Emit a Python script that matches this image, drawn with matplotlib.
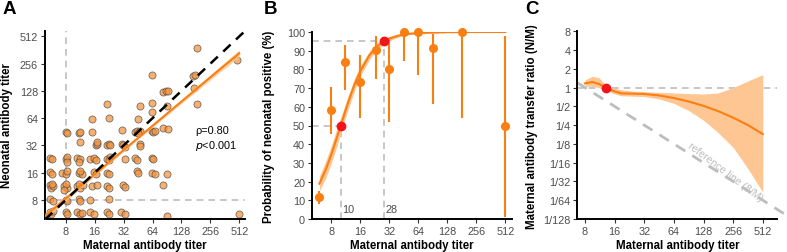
import numpy as np
import matplotlib
matplotlib.use("Agg")
import matplotlib.pyplot as plt

plt.rcParams['font.family'] = ['Liberation Sans', 'DejaVu Sans']

# panel A: log2 titers of maternal / neonatal pairs (jittered as in figure)
mat_log2 = [2.46, 2.50, 2.55, 2.99, 3.03, 3.39, 3.50, 3.55, 3.84, 3.97, 4.42, 4.49, 4.90, 5.06, 6.49, 9.00,
            2.46, 2.57, 2.99, 3.44, 3.50, 3.84, 4.49, 3.03,
            2.46, 2.50, 2.57, 2.53, 2.93, 3.03, 2.99, 3.39, 3.50, 3.61, 3.91, 4.07, 4.42, 4.49, 4.99, 5.06, 6.38, 3.44, 2.95,
            2.46, 2.53, 2.86, 2.99, 3.03, 3.44, 3.55, 3.97, 4.03, 4.42, 4.49, 5.45, 5.51, 5.97, 6.09, 6.49, 3.50,
            2.46, 2.53, 2.99, 3.03, 3.39, 3.50, 3.84, 3.97, 4.03, 4.42, 4.53, 4.49, 5.06, 5.40, 5.45, 5.97, 6.03, 3.03, 3.44,
            3.50, 4.03, 4.07, 4.42, 4.49, 4.53, 4.95, 4.99, 5.06, 5.57, 5.55, 4.07,
            2.99, 3.03, 3.44, 3.50, 3.90, 4.94, 5.40, 5.45, 5.57, 5.97, 6.03, 6.09, 6.38, 6.55, 5.50,
            3.90, 4.49, 5.51, 5.97,
            4.42, 5.57, 5.97, 6.49, 7.53,
            6.38, 6.45, 6.55, 7.45, 7.41, 7.47, 5.97,
            7.53, 8.91]
neo_log2 = [2.55, 2.50, 2.60, 2.55, 2.50, 2.55, 2.50, 2.52, 2.55, 2.50, 2.55, 2.50, 2.56, 2.47, 2.42, 2.49,
            3.05, 2.95, 3.00, 3.04, 2.95, 3.00, 3.04, 2.97,
            3.55, 3.45, 3.50, 3.60, 3.50, 3.45, 3.58, 3.50, 3.45, 3.55, 3.50, 3.55, 3.50, 3.45, 3.53, 3.47, 3.53, 3.60, 3.38,
            4.02, 3.95, 4.00, 3.95, 4.05, 4.00, 3.95, 4.02, 3.95, 4.00, 3.95, 4.05, 3.98, 4.00, 3.95, 3.95, 4.06,
            4.55, 4.50, 4.50, 4.58, 4.55, 4.50, 4.50, 4.55, 4.48, 4.52, 4.58, 4.45, 4.51, 4.55, 4.48, 4.55, 4.50, 4.38, 4.40,
            5.12, 5.00, 5.06, 5.00, 5.06, 5.00, 5.06, 5.00, 4.95, 5.06, 4.98, 5.12,
            5.50, 5.46, 5.46, 5.50, 5.50, 5.55, 5.50, 5.53, 5.53, 5.53, 5.48, 5.53, 5.63, 5.60, 5.45,
            5.97, 6.01, 5.97, 6.22,
            6.53, 6.44, 6.56, 6.44, 6.53,
            6.95, 7.00, 6.98, 7.10, 7.55, 7.60, 7.57,
            8.58, 8.12]
# regression line (log2) with its confidence band
fit_mat_log2 = [2.28, 3, 4, 5, 6, 7, 8, 9]
fit_neo_log2 = [2.41, 3.05, 3.94, 4.83, 5.72, 6.61, 7.50, 8.38]
fit_lo_log2 = [2.29, 2.96, 3.88, 4.78, 5.67, 6.54, 7.40, 8.25]
fit_hi_log2 = [2.53, 3.14, 4.00, 4.88, 5.77, 6.68, 7.60, 8.51]
rho_text = "ρ=0.80"

# panel B: proportion of neonates positive by maternal titer
b_titer = [6, 8, 11, 16, 23, 32, 45, 64, 90, 180, 512]
b_pct = [11.5, 58.5, 84, 73.5, 90.5, 80, 100, 100, 91.5, 100, 50]
b_lo = [8, 45.5, 69, 54, 75, 52, 84.5, 77, 61.5, 54, 1]
b_hi = [15, 70.5, 93, 87.5, 98, 96, 100, 100, 99, 100, 98]
curve_titer = [6, 7, 8, 9, 10, 11, 12, 14, 16, 20, 24, 28, 32, 40, 48, 64, 128, 256, 512]
curve_pct = [18.9, 26.5, 34.7, 42.6, 50, 56.7, 62.7, 72.3, 79.2, 87.8, 92.4, 95, 96.5, 98.1, 98.9, 99.5, 99.9, 100, 100]
curve_lo = [15.0, 22.0, 30.0, 38.0, 46.0, 53.0, 59.0, 69.0, 76.5, 85.5, 90.5, 93.5, 95.3, 97.3, 98.4, 99.2, 99.8, 100, 100]
curve_hi = [22.8, 31.0, 39.5, 47.5, 54.5, 60.5, 66.5, 75.5, 82.0, 90.0, 94.3, 96.5, 97.7, 98.8, 99.4, 99.8, 100, 100, 100]
thresholds = [10, 28]
threshold_pct = [50, 95]

# panel C: transfer ratio N/M
c_titer = [8, 9.5, 11, 13, 15, 18.5, 24, 32, 45, 64, 90, 128, 180, 256, 362, 512]
c_ratio = [1.17, 1.23, 1.15, 1.0, 0.9, 0.81, 0.80, 0.79, 0.75, 0.68, 0.60, 0.51, 0.42, 0.33, 0.25, 0.18]
c_hi = [1.33, 1.52, 1.45, 1.1, 1.0, 0.93, 0.88, 0.86, 0.84, 0.82, 0.80, 0.79, 0.82, 1.0, 1.28, 1.61]
c_lo = [1.05, 1.05, 1.0, 0.92, 0.82, 0.74, 0.73, 0.72, 0.66, 0.56, 0.43, 0.30, 0.19, 0.11, 0.05, 0.021]
c_red = (13, 1)

x_ticks = [8, 16, 32, 64, 128, 256, 512]
a_yticks = [8, 16, 32, 64, 128, 256, 512]
c_yticks = [8, 4, 2, 1, 1/2, 1/4, 1/8, 1/16, 1/32, 1/64, 1/128]
c_ylabels = ['8', '4', '2', '1', '1/2', '1/4', '1/8', '1/16', '1/32', '1/64', '1/128']

ORANGE = '#FA7F12'
BAND = '#FDC693'
GREY = '#BDBDBD'
RED = '#F5121B'
TICKC = '#4D4D4D'
LABFS = 8.3

fig = plt.figure(figsize=(7.87, 2.53), dpi=100)
axA = fig.add_axes([45/787, 33/253, 200/787, 188/253])
axB = fig.add_axes([312/787, 33/253, 200/787, 187/253])
axC = fig.add_axes([577.3/787, 33/253, 200/787, 187.7/253])

def style(ax):
    for s in ['top', 'right']:
        ax.spines[s].set_visible(False)
    for s in ['left', 'bottom']:
        ax.spines[s].set_linewidth(1.4)
    ax.tick_params(colors=TICKC, labelsize=7.8, length=3, width=0.8, pad=2)
    ax.tick_params(axis='both', color='#333333')
    ax.set_xlabel('Maternal antibody titer', fontsize=LABFS, fontweight='bold')
    ax.xaxis.set_label_coords(0.5, -0.105)

dash = dict(color=GREY, lw=1.2, dashes=(4, 3))

# ---- A
ax = axA
ax.set_xscale('log', base=2)
ax.set_yscale('log', base=2)
ax.set_xlim(2**2.28, 2**9.2)
ax.set_ylim(2**2.3, 2**9.2)
ax.axvline(8, **dash, zorder=1)
ax.axhline(8, **dash, zorder=1)
m = 2.0 ** np.array(mat_log2)
n = 2.0 ** np.array(neo_log2)
ax.scatter(m, n, s=26, facecolor='#F5963F', alpha=0.75, edgecolor='#4A4A4A', linewidths=0.6, zorder=2)
ax.plot([2**2.28, 2**9.2], [2**2.28, 2**9.2], color='black', lw=1.8, dashes=(4, 3), zorder=4)
ax.fill_between(2.0 ** np.array(fit_mat_log2), 2.0 ** np.array(fit_lo_log2), 2.0 ** np.array(fit_hi_log2),
                color=BAND, alpha=0.8, lw=0, zorder=3)
ax.plot(2.0 ** np.array(fit_mat_log2), 2.0 ** np.array(fit_neo_log2), color=ORANGE, lw=1.5, zorder=3)
ax.text(0.75, 0.46, rho_text, transform=ax.transAxes, fontsize=7.8)
ax.text(0.75, 0.38, r'$p$<0.001', transform=ax.transAxes, fontsize=7.8)
ax.set_xticks(x_ticks)
ax.set_xticklabels([str(t) for t in x_ticks])
ax.set_yticks(a_yticks)
ax.set_yticklabels([str(t) for t in a_yticks])
ax.minorticks_off()
style(ax)
ax.set_ylabel('Neonatal antibody titer', fontsize=LABFS, fontweight='bold')
ax.yaxis.set_label_coords(-0.16, 0.5)

# ---- B
ax = axB
ax.set_xscale('log', base=2)
ax.set_xlim(2**2.33, 2**9.23)
ax.set_ylim(0, 100)
x0 = 2**2.33
for t, p in zip(thresholds, threshold_pct):
    ax.plot([x0, t], [p, p], **dash, zorder=1)
    ax.plot([t, t], [0, p], **dash, zorder=1)
    ax.text(t * 1.04, 2.5, str(t), fontsize=7.8, color=TICKC, ha='left', va='bottom')
ax.fill_between(curve_titer, curve_lo, curve_hi, color=BAND, lw=0, zorder=2)
ax.plot(curve_titer, curve_pct, color=ORANGE, lw=1.5, zorder=3)
b_err = [np.array(b_pct) - np.array(b_lo), np.array(b_hi) - np.array(b_pct)]
ax.errorbar(b_titer, b_pct, yerr=b_err, fmt='o', color=ORANGE, ms=5.5, elinewidth=1.5,
            capsize=0, zorder=4, clip_on=False)
ax.plot(thresholds, threshold_pct, 'o', color=RED, ms=6, zorder=5, clip_on=False)
ax.set_xticks(x_ticks)
ax.set_xticklabels([str(t) for t in x_ticks])
ax.set_yticks(range(0, 101, 10))
ax.minorticks_off()
style(ax)
ax.set_ylabel('Probability of neonatal positive (%)', fontsize=LABFS, fontweight='bold')
ax.yaxis.set_label_coords(-0.187, 0.5)

# ---- C
ax = axC
ax.set_xscale('log', base=2)
ax.set_yscale('log', base=2)
ax.set_xlim(2**2.74, 2**9.49)
ax.set_ylim(2**-7, 2**3)
ax.axhline(1, **dash, zorder=1)
ref_x = np.array([2**2.74, 2**9.8])
ax.plot(ref_x, 8 / ref_x, color=GREY, lw=2, dashes=(4, 3), clip_on=False, zorder=1)
ax.text(215, 2**-4.45, 'reference line (8/M)', color=GREY, fontsize=7.5, rotation=-37,
        ha='center', va='center')
ax.fill_between(c_titer, c_lo, c_hi, color=BAND, lw=0, zorder=2)
ax.plot(c_titer, c_ratio, color=ORANGE, lw=1.5, zorder=3)
ax.plot([c_red[0]], [c_red[1]], 'o', color=RED, ms=6, zorder=5)
ax.set_xticks(x_ticks)
ax.set_xticklabels([str(t) for t in x_ticks])
ax.set_yticks(c_yticks)
ax.set_yticklabels(c_ylabels)
ax.minorticks_off()
style(ax)
ax.set_ylabel('Maternal antibody transfer ratio (N/M)', fontsize=LABFS, fontweight='bold')
ax.yaxis.set_label_coords(-0.197, 0.5)

for lab, xx in zip(['A', 'B', 'C'], [0.003, 0.335, 0.668]):
    fig.text(xx, 0.995, lab, fontsize=13.5, fontweight='bold', ha='left', va='top')

fig.savefig('out.png', dpi=100)
